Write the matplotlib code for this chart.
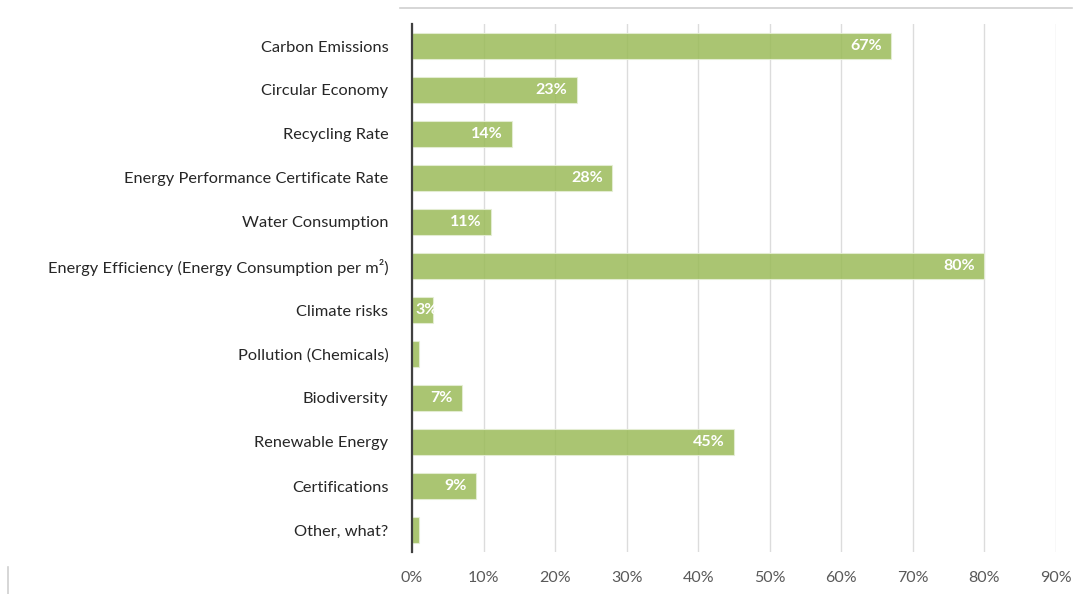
import matplotlib.pyplot as plt
from matplotlib.lines import Line2D

categories = ["Carbon Emissions", "Circular Economy", "Recycling Rate",
              "Energy Performance Certificate Rate", "Water Consumption",
              "Energy Efficiency (Energy Consumption per m²)", "Climate risks",
              "Pollution (Chemicals)", "Biodiversity", "Renewable Energy",
              "Certifications", "Other, what?"]
values = [67, 23, 14, 28, 11, 80, 3, 1, 7, 45, 9, 1]
xticks = [0, 10, 20, 30, 40, 50, 60, 70, 80, 90]

plt.rcParams['font.family'] = ['Lato', 'DejaVu Sans']

fig = plt.figure(figsize=(10.85, 5.94), dpi=100)
ax = fig.add_axes([412 / 1085, 42 / 594, 644 / 1085, 528 / 594])

ypos = list(range(len(categories)))
bars = ax.barh(ypos, values, height=0.57, color="#9bbb59", alpha=0.85,
               edgecolor="#e6efd6", linewidth=0.8, zorder=2)

# value labels inside bar ends, clipped to the bar like the original
for b, v in zip(bars, values):
    if v <= 1:
        continue
    yc = b.get_y() + b.get_height() / 2
    if v < 5:
        t = ax.text(0.55, yc, f"{v}%", ha="left", va="center", color="white",
                    fontsize=11.5, fontweight="bold", zorder=3)
    else:
        t = ax.text(v - 1.3, yc, f"{v}%", ha="right", va="center",
                    color="white", fontsize=11.5, fontweight="bold", zorder=3)
    t.set_clip_path(b)

ax.set_xlim(0, 90)
ax.set_ylim(len(categories) - 0.5, -0.5)
ax.set_xticks(xticks)
ax.set_xticklabels([f"{x}%" for x in xticks], color="#595959", fontsize=11.5)
ax.set_yticks(ypos)
ax.set_yticklabels(categories, color="#262626", fontsize=11.8)
ax.tick_params(axis="x", length=0, pad=14)
ax.tick_params(axis="y", length=0, pad=17)

ax.grid(axis="x", color="#dcdcdc", linewidth=1, zorder=0)
ax.set_axisbelow(True)
for s in ["top", "right", "bottom"]:
    ax.spines[s].set_visible(False)
ax.spines["left"].set_color("#404040")
ax.spines["left"].set_linewidth(1.6)
ax.spines["left"].set_zorder(4)

# frame bits seen in the screenshot
fig.add_artist(Line2D([400 / 1085, 1072 / 1085], [586 / 594, 586 / 594],
                      color="#d0d0d0", linewidth=1.2))
fig.add_artist(Line2D([8 / 1085, 8 / 1085], [0, 27 / 594],
                      color="#d0d0d0", linewidth=1.2))

fig.savefig("out.png", dpi=100)
